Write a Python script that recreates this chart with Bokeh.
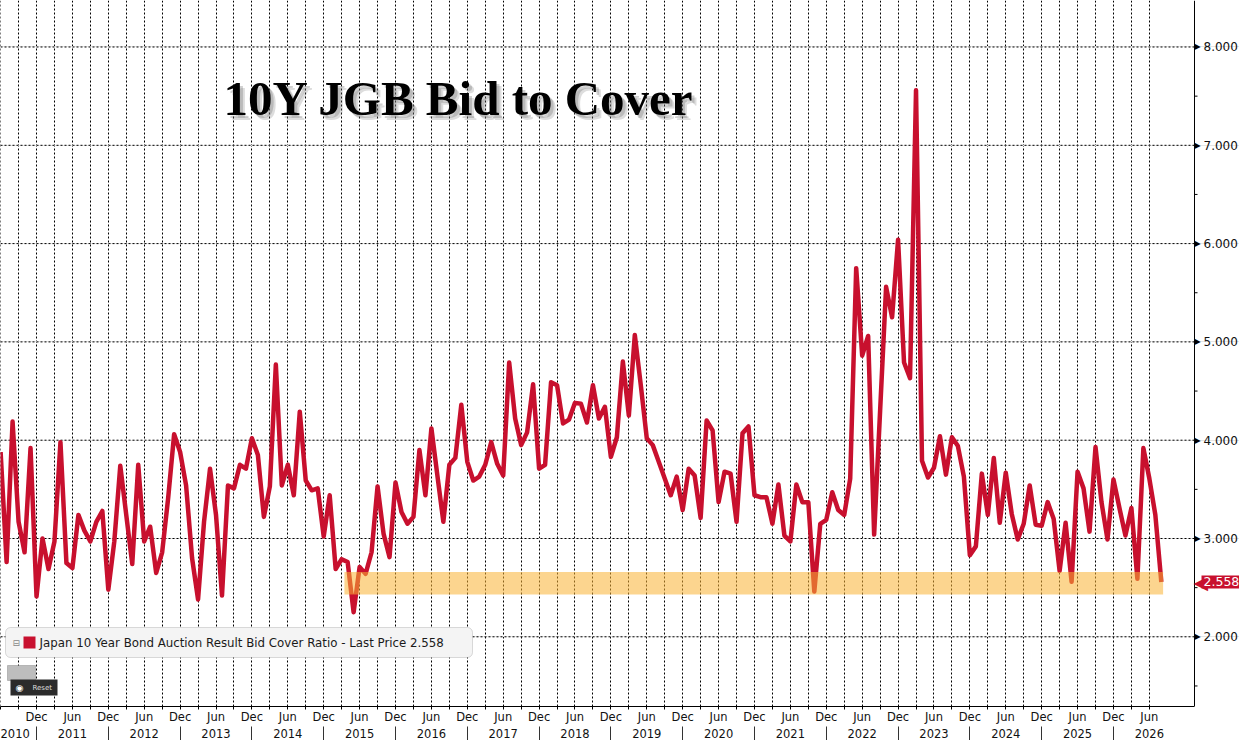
import math
import pandas as pd
from bokeh.plotting import figure
from bokeh.models import (Range1d, LinearAxis, FixedTicker, BoxAnnotation, Label, Span)
from bokeh.core.properties import value
from bokeh.embed import file_html
from bokeh.resources import INLINE

# ---------------- data ----------------
bid_cover = [
    3.88, 2.76, 4.19, 3.17, 2.86, 3.92, 2.41, 3.00, 2.69, 2.97,
    3.98, 2.75, 2.70, 3.24, 3.08, 2.97, 3.17, 3.28, 2.48, 2.97,
    3.74, 3.24, 2.74, 3.75, 2.97, 3.12, 2.65, 2.86, 3.41, 4.06,
    3.88, 3.54, 2.80, 2.38, 3.17, 3.71, 3.24, 2.42, 3.54, 3.51,
    3.75, 3.71, 4.02,
    3.85, 3.22, 3.53, 4.77, 3.54, 3.75, 3.44, 4.29, 3.59, 3.49,
    3.51, 3.02, 3.44, 2.69, 2.79, 2.76, 2.25, 2.71, 2.64, 2.86,
    3.53, 3.05, 2.81, 3.57, 3.27, 3.15, 3.22, 3.90, 3.44, 4.12,
    3.64, 3.17, 3.75, 3.82, 4.36, 3.78, 3.59, 3.63, 3.75, 3.98,
    3.76, 3.64, 4.79, 4.22, 3.95, 4.08, 4.57, 3.71, 3.75, 4.59,
    4.56, 4.17, 4.21, 4.38, 4.37, 4.18, 4.56, 4.22, 4.34, 3.83,
    4.03, 4.80, 4.25, 5.07, 4.56, 4.02, 3.95, 3.78, 3.61, 3.44,
    3.63, 3.29, 3.71, 3.64, 3.21, 4.20, 4.10, 3.37, 3.68,
    3.66, 3.17, 4.07, 4.14, 3.44, 3.42, 3.42, 3.15, 3.55, 3.03,
    2.97, 3.55, 3.37, 3.37, 2.46, 3.15, 3.19, 3.47, 3.29, 3.24,
    3.61,
    5.75, 4.86, 5.06, 3.04, 4.30, 5.56, 5.25, 6.04, 4.79, 4.63,
    7.56, 3.79, 3.62, 3.72, 4.04, 3.65, 4.03, 3.94, 3.63,
    2.83, 2.92, 3.66, 3.24, 3.82, 3.16, 3.67, 3.25, 2.99, 3.15,
    3.54, 3.14, 3.13, 3.37, 3.20, 2.67, 3.16, 2.56, 3.68, 3.51,
    3.07, 3.93, 3.37, 2.99, 3.60, 3.31, 3.03, 3.31, 2.59, 3.92,
    3.61, 3.24, 2.558,
]
first_month = "2010-07-01"
dates = pd.date_range(first_month, periods=len(bid_cover), freq="MS")

band_start = "2015-04-15"
band_end = "2026-09-10"
band_low = 2.43
band_high = 2.66
last_price = 2.558

y_ticks = [2, 3, 4, 5, 6, 7, 8]
y_tick_labels = ["2.000", "3.000", "4.000", "5.000", "6.000", "7.000", "8.000"]
y_minor = [1.5, 2.5, 3.5, 4.5, 5.5, 6.5, 7.5, 8.5]
half_year_names = ["Jun", "Dec"]
year_labels = [str(y) for y in range(2010, 2027)]

title_text = "10Y JGB Bid to Cover"
legend_text = "Japan 10 Year Bond Auction Result Bid Cover Ratio - Last Price 2.558"

LINE_RED = "#C8102E"
FONT = "DejaVu Sans"


def mpos(ts):
    ts = pd.Timestamp(ts)
    return (ts.year - 2010) * 12 + ts.month - 1 + (ts.day - 1) / 30.0


x = [mpos(d) for d in dates]

FW, FH = 1239, 706
PX_PER_MONTH = 5.983
X0 = 5.98
X1 = X0 + FW / PX_PER_MONTH
AXIS_X = X0 + 1194 / PX_PER_MONTH          # position of the value axis
Y0, Y1 = 1.291, 8.473

p = figure(frame_width=FW, frame_height=FH,
           x_range=Range1d(X0, X1), y_range=Range1d(Y0, Y1),
           y_axis_location=None, output_backend="svg",
           toolbar_location=None, min_border_left=0, min_border_top=0,
           min_border_right=0, min_border_bottom=0)
p.outline_line_color = None
p.background_fill_color = "white"
p.border_fill_color = "white"

# ---- bottom axis, row 1 (Dec / Jun) ----
quarter_ticks = list(range(6, 199, 3))
overrides = {}
for t in quarter_ticks:
    if t % 12 == 0:
        overrides[t] = half_year_names[1]
    elif t % 12 == 6 and t > 6:
        overrides[t] = half_year_names[0]
    else:
        overrides[t] = ""
xa = p.xaxis[0]
xa.ticker = FixedTicker(ticks=quarter_ticks)
xa.major_label_overrides = overrides
xa.bounds = (X0, AXIS_X)
xa.axis_line_color = "black"
xa.major_tick_out = 3
xa.major_tick_in = 0
xa.minor_tick_line_color = None
xa.major_label_standoff = 0
xa.major_label_text_font = FONT
xa.major_label_text_font_size = "11.5px"
xa.major_label_text_color = "#111111"

# ---- bottom axis, row 2 (years) ----
year_ticks = [8] + [6 + 12 * k for k in range(1, len(year_labels))]
year_seps = [12 * k for k in range(1, len(year_labels))]
ax2 = LinearAxis(ticker=FixedTicker(ticks=year_ticks, minor_ticks=year_seps),
                 major_label_overrides={t: lab for t, lab in zip(year_ticks, year_labels)})
ax2.axis_line_color = None
ax2.major_tick_line_color = None
ax2.minor_tick_out = 15
ax2.minor_tick_in = 0
ax2.minor_tick_line_color = "#333333"
ax2.major_label_standoff = -13
ax2.major_label_text_font = FONT
ax2.major_label_text_font_size = "11.5px"
ax2.major_label_text_color = "#111111"
p.add_layout(ax2, "below")

# ---- grids ----
g = p.xgrid[0]
g.grid_line_color = "black"
g.grid_line_dash = "2 2"
g.grid_line_width = 1
g.grid_line_alpha = 1.0

# horizontal grid lines, stopping at the value axis
p.segment(x0=[X0] * len(y_ticks), x1=[AXIS_X] * len(y_ticks), y0=y_ticks, y1=y_ticks,
          line_color="black", line_dash="2 2", line_width=1)

# ---- series ----
p.line(x, bid_cover, line_color=LINE_RED, line_width=4.5, line_join="round")

# highlight band (drawn over the line)
p.add_layout(BoxAnnotation(left=mpos(band_start), right=mpos(band_end),
                           bottom=band_low, top=band_high,
                           fill_color="#F9B233", fill_alpha=0.55,
                           line_color=None))

# ---- value axis on the right (drawn inside the frame) ----
p.add_layout(Span(location=AXIS_X, dimension="height", line_color="black", line_width=1))
p.ray(x=[AXIS_X] * len(y_minor), y=y_minor, length=3, length_units="screen",
      angle=0, line_color="black", line_width=1)
p.text(x=[AXIS_X] * len(y_ticks), y=y_ticks, text=["\u25B6"] * len(y_ticks),
       x_offset=0, text_font=value(FONT), text_font_size="8px",
       text_baseline="middle", text_align="left", text_color="black")
p.text(x=[AXIS_X] * len(y_ticks), y=y_ticks, text=y_tick_labels, x_offset=9,
       text_font=value(FONT), text_font_size="12px", text_baseline="middle",
       text_align="left", text_color="#111111")

# ---- last price tag ----
p.add_layout(Label(x=AXIS_X, y=last_price, x_offset=-1, text="\u25C0", text_font=FONT,
                   text_font_size="19px", text_baseline="middle", text_align="left",
                   text_color=LINE_RED))
p.add_layout(Label(x=AXIS_X, y=last_price, x_offset=7, text=f"{last_price:.3f}",
                   text_font=FONT, text_font_size="12.5px", text_baseline="middle",
                   text_align="left", text_color="white",
                   background_fill_color=LINE_RED, padding=2))


def sy(ry):
    return FH - ry


# ---- title with soft shadow ----
for dx, dy, col, a in [(5, -5, "#777777", 0.25), (3, -3, "#777777", 0.35),
                       (0, 0, "black", 1.0)]:
    p.add_layout(Label(x=223, y=sy(97.5), x_units="screen", y_units="screen",
                       x_offset=dx, y_offset=dy, text=title_text,
                       text_font="Liberation Serif", text_font_style="bold",
                       text_font_size="49px", text_color=col, text_alpha=a,
                       text_baseline="middle", text_align="left"))

# ---- legend box ----
p.add_layout(BoxAnnotation(left=5, right=472, top=sy(627), bottom=sy(657),
                           left_units="screen", right_units="screen",
                           top_units="screen", bottom_units="screen",
                           fill_color="#F4F4F4", fill_alpha=1.0,
                           line_color="#8A8A8A", line_width=1, border_radius=5))
p.add_layout(BoxAnnotation(left=23, right=35, top=sy(636), bottom=sy(648),
                           left_units="screen", right_units="screen",
                           top_units="screen", bottom_units="screen",
                           fill_color=LINE_RED, fill_alpha=1.0, line_color=None))
p.add_layout(Label(x=12, y=sy(642), x_units="screen", y_units="screen",
                   text="\u229F", text_font=FONT, text_font_size="9px",
                   text_baseline="middle", text_color="#888888"))
p.add_layout(Label(x=39, y=sy(642), x_units="screen", y_units="screen",
                   text=legend_text, text_font=FONT, text_font_size="11.8px",
                   text_baseline="middle", text_color="#1A1A1A"))

# ---- small toolbar widgets ----
p.add_layout(BoxAnnotation(left=7, right=35, top=sy(665), bottom=sy(680),
                           left_units="screen", right_units="screen",
                           top_units="screen", bottom_units="screen",
                           fill_color="#BDBDBD", fill_alpha=1.0,
                           line_color="#555555", line_width=1))
p.add_layout(BoxAnnotation(left=10, right=57, top=sy(679), bottom=sy(695),
                           left_units="screen", right_units="screen",
                           top_units="screen", bottom_units="screen",
                           fill_color="#2B2B2B", fill_alpha=1.0, line_color=None))
p.add_layout(Label(x=15, y=sy(687.5), x_units="screen", y_units="screen",
                   text="\u25C9", text_font=FONT, text_font_size="9px",
                   text_baseline="middle", text_color="white"))
p.add_layout(Label(x=32, y=sy(687.5), x_units="screen", y_units="screen",
                   text="Reset", text_font=FONT, text_font_size="7px",
                   text_baseline="middle", text_color="#DDDDDD"))

open("out.html", "w").write(file_html(p, INLINE))
